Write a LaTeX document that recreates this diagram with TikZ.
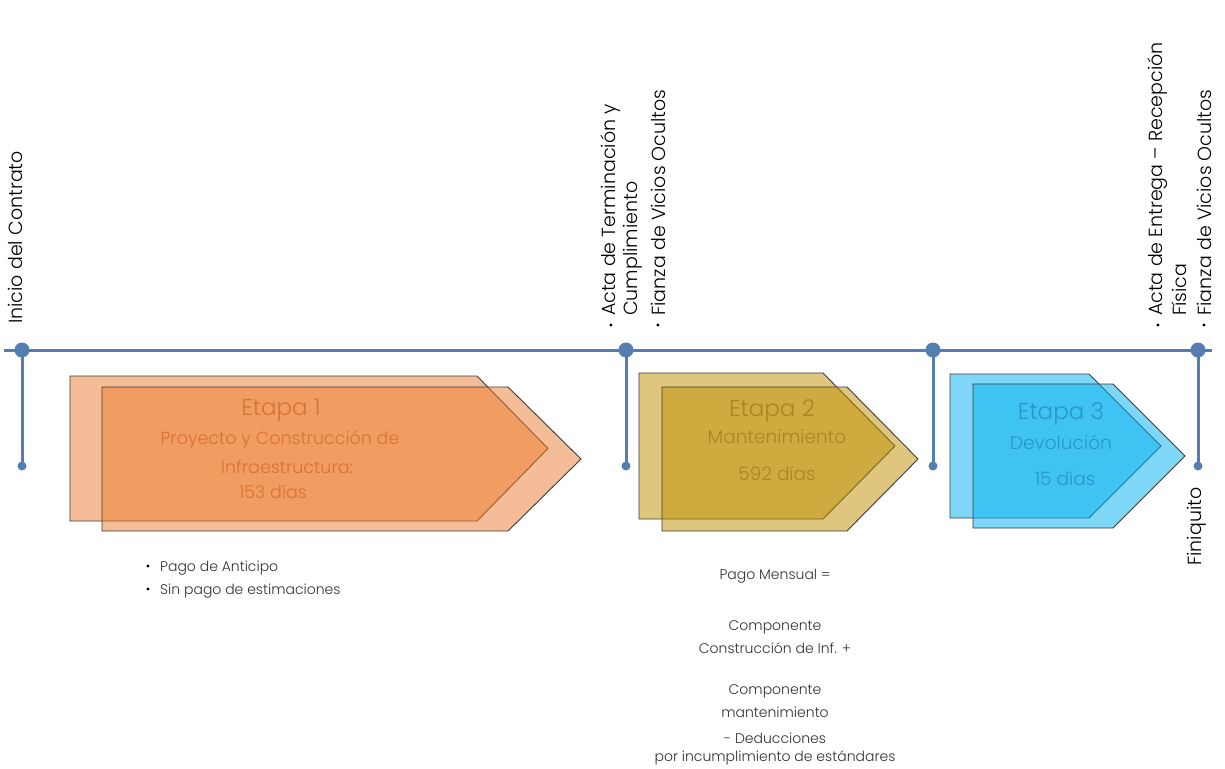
\documentclass[tikz,border=0pt]{standalone}
\usepackage{fontspec}
\setmainfont{Poppins}[UprightFont=* Light]
\definecolor{tl}{RGB}{84,125,178}
\definecolor{eone}{RGB}{237,125,49}
\definecolor{etwo}{RGB}{191,143,0}
\definecolor{ethree}{RGB}{0,176,240}
\definecolor{tone}{RGB}{214,116,50}
\definecolor{ttwo}{RGB}{172,134,28}
\definecolor{tthree}{RGB}{38,150,208}
\definecolor{txt}{RGB}{50,50,50}
\definecolor{outl}{RGB}{60,60,60}
\tikzset{
  chevshape/.style={draw=outl, line width=0.9pt, fill opacity=0.5, line join=miter},
  bigdot/.style={circle, fill=tl, inner sep=0pt, minimum size=15pt},
  smalldot/.style={circle, fill=tl, inner sep=0pt, minimum size=9pt},
  tline/.style={draw=tl, line width=3pt},
  vlabel/.style={rotate=90, anchor=west, inner sep=0pt, font=\fontsize{19}{22}\selectfont, text=black},
  bul/.style={inner sep=0pt, font=\fontsize{12}{14}\selectfont, text=black},
  note/.style={inner sep=0pt, font=\fontsize{14}{16}\selectfont, text=txt},
  etitle/.style={inner sep=0pt, font=\fontsize{23}{26}\selectfont},
  esubone/.style={inner sep=0pt, font=\fontsize{17.5}{20}\selectfont},
  esub/.style={inner sep=0pt, font=\fontsize{18.5}{20}\selectfont},
}
\newcommand\mychev[6]{%
  \path[chevshape, fill=#6] (#1,-#4) -- (#2,-#4) -- (#3,{-(#4+#5)/2}) -- (#2,-#5) -- (#1,-#5) -- cycle;}
\begin{document}
\begin{tikzpicture}[x=1pt,y=1pt]
\useasboundingbox (0,0) rectangle (1225,-768);
\fill[white] (0,0) rectangle (1225,-768);

% timeline
\coordinate (tlstart) at (4,-350);
\coordinate (tlend) at (1212,-350);
\draw[tline] (tlstart) -- (tlend);
\node[bigdot] (d1) at (22,-350) {};
\node[bigdot] (d2) at (626,-350) {};
\node[bigdot] (d3) at (933,-350) {};
\node[bigdot] (d4) at (1198,-350) {};
\node[smalldot] (s1) at (22,-466) {};
\node[smalldot] (s2) at (626,-466) {};
\node[smalldot] (s3) at (933,-466) {};
\node[smalldot] (s4) at (1198,-466) {};
\draw[tline] (d1.center) -- (s1.center);
\draw[tline] (d2.center) -- (s2.center);
\draw[tline] (d3.center) -- (s3.center);
\draw[tline] (d4.center) -- (s4.center);

% chevrons
\mychev{70}{477}{548}{376}{521}{eone}
\mychev{102}{508}{581}{387}{531}{eone}
\mychev{639}{823}{895}{373}{519}{etwo}
\mychev{662}{847}{918}{387}{531}{etwo}
\mychev{950}{1089}{1161}{374}{518}{ethree}
\mychev{973}{1113}{1185}{384}{528}{ethree}

% stage texts
\node[etitle, text=tone] (e1t) at (281,-410) {Etapa 1};
\node[esubone, text=tone] (e1a) at (280,-440) {Proyecto y Construcción de};
\node[esubone, text=tone] (e1b) at (287,-467) {Infraestructura:};
\node[esubone, text=tone] (e1c) at (273,-492) {153 días};

\node[etitle, text=ttwo] (e2t) at (772,-411) {Etapa 2};
\node[esub, text=ttwo] (e2a) at (777,-437) {Mantenimiento};
\node[esub, text=ttwo] (e2b) at (777,-473) {592 días};

\node[etitle, text=tthree] (e3t) at (1061,-414) {Etapa 3};
\node[esub, text=tthree] (e3a) at (1061,-442) {Devolución};
\node[esub, text=tthree] (e3b) at (1065,-478) {15 días};

% top labels
\node[vlabel] (l1) at (15,-324) {Inicio del Contrato};
\node[bul] (b1) at (611,-327) {•};
\node[vlabel] (l2a) at (611,-316) {Acta de Terminación y};
\node[vlabel] (l2b) at (633,-316) {Cumplimiento};
\node[bul] (b2) at (658,-327) {•};
\node[vlabel] (l2c) at (658,-316) {Fianza de Vicios Ocultos};
\node[bul] (b3) at (1158,-327) {•};
\node[vlabel] (l3a) at (1158,-316) {Acta de Entrega – Recepción};
\node[vlabel] (l3b) at (1179,-316) {Física};
\node[bul] (b4) at (1204,-327) {•};
\node[vlabel] (l3c) at (1204,-316) {Fianza de Vicios Ocultos};
\node[vlabel] (l4) at (1197,-566) {Finiquito};

% bottom notes
\node[bul] (n1b) at (148,-568) {•};
\node[note, anchor=west] (n1) at (160,-568) {Pago de Anticipo};
\node[bul] (n2b) at (148,-591) {•};
\node[note, anchor=west] (n2) at (160,-591) {Sin pago de estimaciones};

\node[note] (m1) at (775,-576) {Pago Mensual =};
\node[note] (m2) at (775,-627) {Componente};
\node[note] (m3) at (775,-648) {Construcción de Inf. +};
\node[note] (m4) at (775,-691) {Componente};
\node[note] (m5) at (775,-712) {mantenimiento};
\node[note] (m6) at (775,-738) {- Deducciones};
\node[note] (m7) at (775,-758) {por incumplimiento de estándares};
\end{tikzpicture}
\end{document}
